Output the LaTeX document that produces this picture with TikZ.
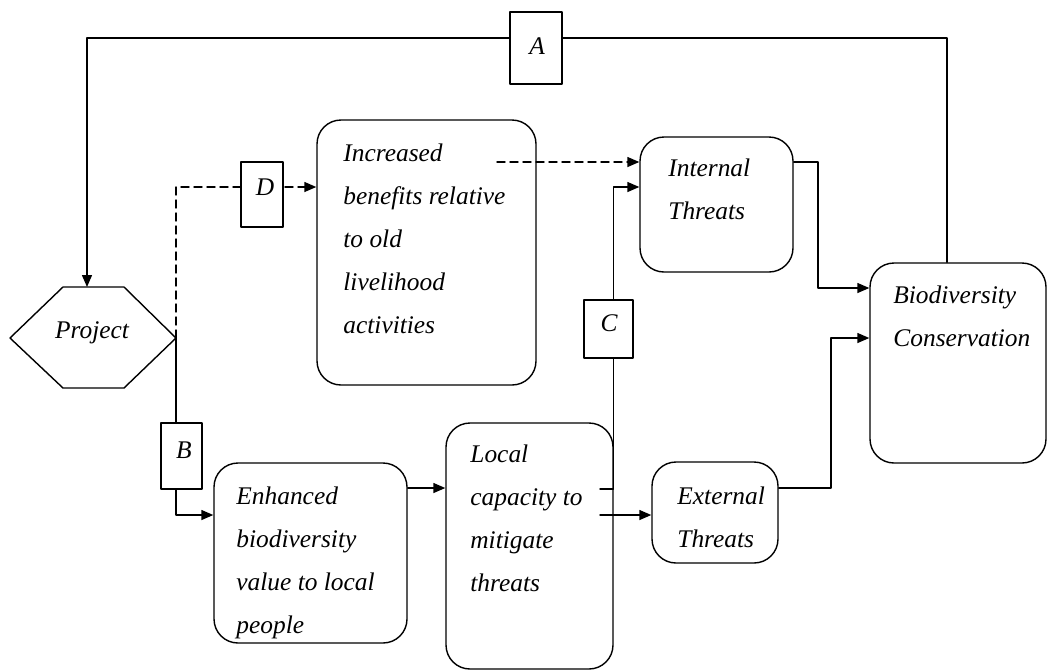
\documentclass[tikz,border=0pt]{standalone}
\usepackage{fontspec}
\setmainfont{Liberation Serif}
\usetikzlibrary{arrows.meta}

\begin{document}
\begin{tikzpicture}[x=0.5pt,y=-0.5pt,line cap=round,line join=round,
	box/.style={draw,line width=0.7pt,rounded corners=12pt,inner sep=0pt},
	tag/.style={draw,line width=0.6pt,fill=white,inner sep=0pt},
	txt/.style={font=\fontsize{12.7}{21.5}\selectfont\itshape,align=left,inner sep=0pt},
	arr/.style={line width=0.7pt,-{Triangle[length=6pt,width=5pt]}},
	dashline/.style={dash pattern=on 4pt off 2.5pt}]
	\useasboundingbox (0,0) rectangle (1048,671);
	
	% project hexagon
	\coordinate (pl)  at (10,338);
	\coordinate (ptl) at (63,287);
	\coordinate (ptr) at (124,287);
	\coordinate (pr)  at (176,338);
	\coordinate (pbr) at (124,388);
	\coordinate (pbl) at (63,388);
	\coordinate (ptop) at (87,287);
	\draw[line width=0.7pt] (pl) -- (ptl) -- (ptr) -- (pr) -- (pbr) -- (pbl) -- cycle;
	\node[txt] (proj) at (92,333) {Project};
	
	% boxes
	\node[box,minimum width=109.5pt,minimum height=132.5pt] (inc)  at (426.5,252.5) {};
	\node[box,minimum width=76.5pt,minimum height=67.5pt]   (intl) at (716.5,204.5) {};
	\node[box,minimum width=88pt,minimum height=100pt]      (bio)  at (958,363) {};
	\node[box,minimum width=96.5pt,minimum height=90pt]     (enh)  at (310.5,553) {};
	\node[box,minimum width=83.5pt,minimum height=123pt]    (loc)  at (529.5,546) {};
	\node[box,minimum width=63pt,minimum height=50.5pt]     (ext)  at (715,512.5) {};
	
	% box texts
	\node[txt,anchor=north west] (incT)  at (343,143) {Increased\\benefits relative\\to old\\livelihood\\activities};
	\node[txt,anchor=north west] (intlT) at (668,158) {Internal\\Threats};
	\node[txt,anchor=north west] (bioT)  at (893,285) {Biodiversity\\Conservation};
	\node[txt,anchor=north west] (enhT)  at (236,486) {Enhanced\\biodiversity\\value to local\\people};
	\node[txt,anchor=north west] (locT)  at (470,444) {Local\\capacity to\\mitigate\\threats};
	\node[txt,anchor=north west] (extT)  at (677,486) {External\\Threats};
	
	% levels
	\coordinate (topR) at (947,38);
	\coordinate (topL) at (87,38);
	\coordinate (yD) at (0,187);
	\coordinate (yI) at (0,162);
	\coordinate (yB) at (0,515);
	\coordinate (yE) at (0,488);
	\coordinate (yBio1) at (0,288);
	\coordinate (yBio2) at (0,338);
	\coordinate (xI) at (818,0);
	\coordinate (xE) at (831,0);
	\coordinate (incOut) at (497,162);
	\coordinate (locTick) at (600,489);
	\coordinate (locOut) at (600,515);
	
	% connectors
	\draw[arr] (bio.north -| topR) -- (topR) -- (topL) -- (ptop);
	\draw[arr,dashline] (pr) |- (inc.west |- yD);
	\draw[arr,dashline] (incOut) -- (incOut -| intl.west);
	\draw[arr] (locTick) -- (locTick -| loc.east) |- (intl.west |- yD);
	\draw[arr] (pr) |- (enh.west |- yB);
	\draw[arr] (enh.east |- yE) -- (loc.west |- yE);
	\draw[arr] (locOut) -- (locOut -| ext.west);
	\draw[arr] (intl.east |- yI) -| (xI |- yBio1) -- (bio.west |- yBio1);
	\draw[arr] (ext.east |- yE) -| (xE |- yBio2) -- (bio.west |- yBio2);
	
	% tags on the connectors
	\node[tag,minimum width=26pt,minimum height=36pt]   (A) at (536,48) {};
	\node[tag,minimum width=20.5pt,minimum height=33pt] (B) at (181.5,456) {};
	\node[tag,minimum width=24.5pt,minimum height=29pt] (C) at (608.5,329) {};
	\node[tag,minimum width=21pt,minimum height=32.5pt] (D) at (262,194.5) {};
	\node[txt] (At) at (537,46) {A};
	\node[txt] (Bt) at (184,450) {B};
	\node[txt] (Ct) at (609,323) {C};
	\node[txt] (Dt) at (265,187) {D};
\end{tikzpicture}
\end{document}
